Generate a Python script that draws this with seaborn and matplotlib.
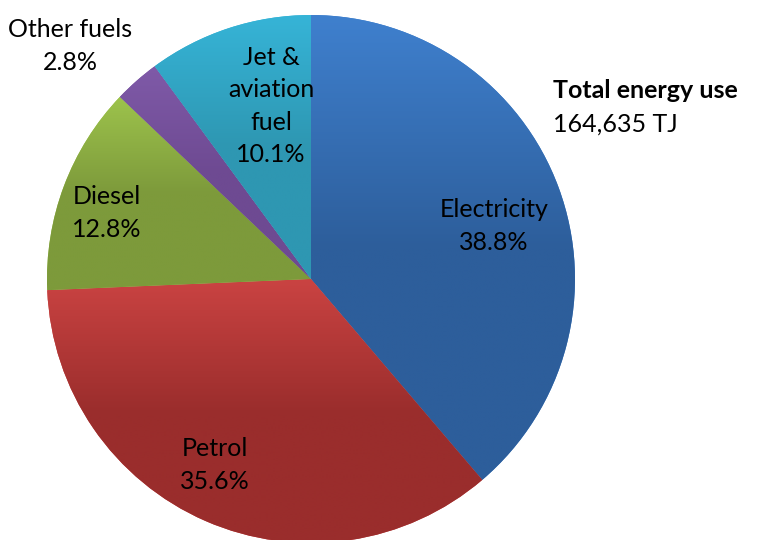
import numpy as np
import seaborn as sns
import matplotlib.pyplot as plt
from matplotlib.colors import LinearSegmentedColormap

# data
fuels = ["Electricity", "Petrol", "Diesel", "Other fuels", "Jet &\naviation\nfuel"]
shares = [38.8, 35.6, 12.8, 2.8, 10.1]
light = ["#3F80CE", "#CA4342", "#9DC34C", "#7F5AA8", "#36B4D7"]
dark = ["#2D5E9B", "#9A2D2C", "#7D9A3B", "#6E4A92", "#2E97B2"]
total_label = "Total energy use"
total_value = "164,635 TJ"

sns.set_style("white")
plt.rcParams["font.family"] = ["Lato", "DejaVu Sans"]

fig = plt.figure(figsize=(7.57, 5.40), dpi=100)
ax = fig.add_axes([0, 0, 1, 1])

# pie in pixel-like data coords (y up)
cx, cy, rad = 311, 540 - 279, 264
wedges, _ = ax.pie(shares, startangle=90, counterclock=False, center=(cx, cy),
                   radius=rad, frame=True, colors=light,
                   wedgeprops=dict(linewidth=0))

# vertical gradient per slice, like the Excel fill
for w, c0, c1 in zip(wedges, light, dark):
    v = w.get_patch_transform().transform(w.get_path().vertices)
    x0, y0 = v.min(axis=0)
    x1, y1 = v.max(axis=0)
    cmap = LinearSegmentedColormap.from_list("g", [c1, c1, c0])
    grad = np.linspace(0, 1, 256).reshape(-1, 1)
    im = ax.imshow(grad, extent=[x0, x1, y0, y1], origin="lower", cmap=cmap,
                   aspect="auto", zorder=1.5, interpolation="bilinear")
    im.set_clip_path(w)

ax.set_xlim(0, 757)
ax.set_ylim(0, 540)
ax.set_aspect("equal")
ax.axis("off")

fs = 18
lab_pos = [(494, 226), (215, 465), (107, 213), (70, 46), (271, 106)]
for name, s, (x, y) in zip(fuels, shares, lab_pos):
    ax.text(x, 540 - y, f"{name}\n{s:.1f}%", ha="center", va="center",
            fontsize=fs, linespacing=1.5, color="black", zorder=3)

ax.text(553, 540 - 90, total_label, ha="left", va="center", fontsize=fs,
        fontweight="bold", color="black", zorder=3)
ax.text(553, 540 - 124, total_value, ha="left", va="center", fontsize=fs,
        color="black", zorder=3)

fig.savefig("out.png", dpi=100)
